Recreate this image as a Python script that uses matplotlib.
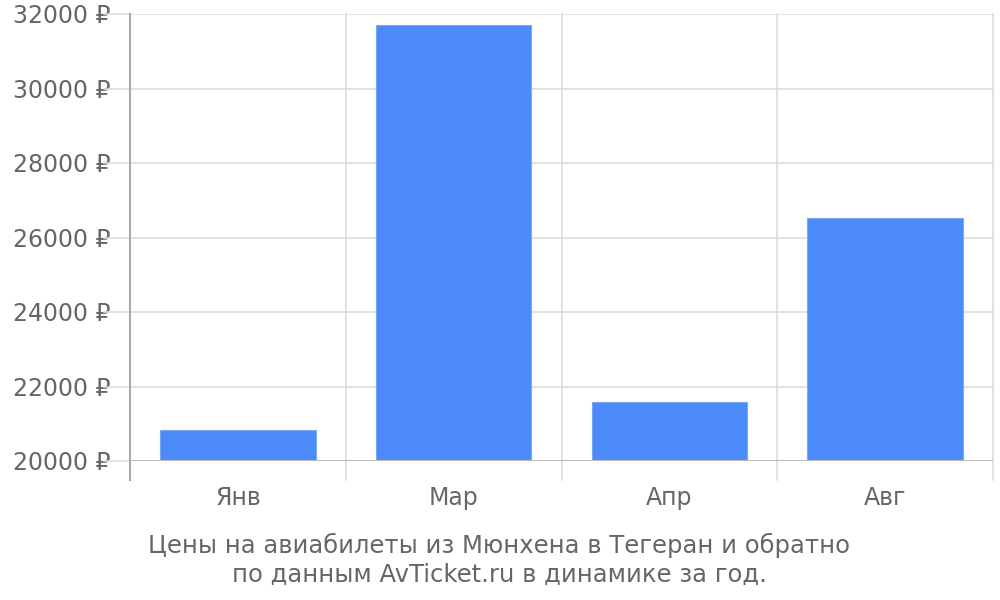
import numpy as np
import matplotlib.pyplot as plt

# data
months = ['Янв', 'Мар', 'Апр', 'Авг']
prices = [20830, 31705, 21585, 26525]
yticks = [20000, 22000, 24000, 26000, 28000, 30000, 32000]

txt = '#666666'
grid = '#dddddd'
bar_col = '#4c8afa'

plt.rcParams['font.family'] = ['DejaVu Sans']

fig = plt.figure(figsize=(10, 6), dpi=100)
ax = fig.add_axes([0.130, 1 - 461 / 600, 0.863, (461 - 14) / 600])

x = np.arange(len(months))
ax.bar(x, prices, width=0.72, color=bar_col, edgecolor='#7aa7fb', linewidth=0.8, zorder=3)

ax.set_xlim(-0.5, len(months) - 0.5)
ax.set_ylim(yticks[0], yticks[-1])
ax.set_yticks(yticks)
ax.set_yticklabels([f'{v} ₽' for v in yticks], fontsize=17, color=txt)
ax.set_xticks(x)
ax.set_xticklabels(months, fontsize=17, color=txt)
ax.tick_params(axis='y', length=0, pad=14)
ax.tick_params(axis='x', length=0, pad=18)

for v in yticks:
    ax.axhline(v, color=grid, lw=1.2, zorder=1)
    ax.plot([-0.62, -0.5], [v, v], color=grid, lw=1.2, clip_on=False)
for b in np.arange(len(months)) + 0.5:
    ax.plot([b, b], [yticks[0] - 520, yticks[-1]], color=grid, lw=1.2, clip_on=False, zorder=1)

for s in ax.spines.values():
    s.set_visible(False)
ax.plot([-0.5, -0.5], [yticks[0] - 520, yticks[-1]], color='#aaaaaa', lw=1.5, clip_on=False, zorder=4)
ax.axhline(yticks[0], color='#bbbbbb', lw=1.5, zorder=4)

fig.text(0.499, 0.022, 'Цены на авиабилеты из Мюнхена в Тегеран и обратно\nпо данным AvTicket.ru в динамике за год.',
         ha='center', va='bottom', fontsize=17.5, color=txt, linespacing=1.25)

fig.savefig('out.png', dpi=100)
